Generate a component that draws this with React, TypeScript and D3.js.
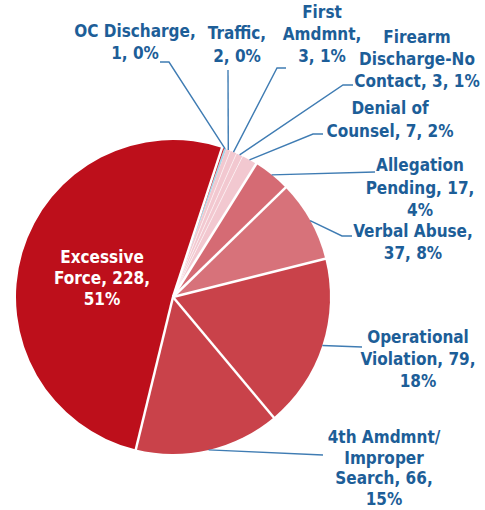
import React from "react";
import * as d3 from "d3";

const categories = [
  "OC Discharge",
  "Traffic",
  "First Amdmnt",
  "Firearm Discharge-No Contact",
  "Denial of Counsel",
  "Allegation Pending",
  "Verbal Abuse",
  "Operational Violation",
  "4th Amdmnt/ Improper Search",
  "Excessive Force",
];
const counts = [1, 2, 3, 3, 7, 17, 37, 79, 66, 228];
const percents = ["0%", "0%", "1%", "1%", "2%", "4%", "8%", "18%", "15%", "51%"];
const labelLines = [
  ["OC Discharge,", "1, 0%"],
  ["Traffic,", "2, 0%"],
  ["First", "Amdmnt,", "3, 1%"],
  ["Firearm", "Discharge-No", "Contact, 3, 1%"],
  ["Denial of", "Counsel, 7, 2%"],
  ["Allegation", "Pending, 17,", "4%"],
  ["Verbal Abuse,", "37, 8%"],
  ["Operational", "Violation, 79,", "18%"],
  ["4th Amdmnt/", "Improper", "Search, 66,", "15%"],
  ["Excessive", "Force, 228,", "51%"],
];
const colors = [
  "#a8d8ea",
  "#f2c8d0",
  "#f2c8d0",
  "#f2c8d0",
  "#f2c8d0",
  "#d56b74",
  "#d7727a",
  "#c9424a",
  "#c9424a",
  "#bd0f1b",
];

// separator widths at the start boundary of each slice
const sepWidths = [2.5, 0, 0.8, 0.8, 0.8, 2.5, 2.5, 2.5, 2.5, 2.5];

const layout = [
  { x: 135, y: 31, lh: 22, leader: [[169, 62], [160, 62]] },
  { x: 237, y: 33, lh: 23, leader: [[228, 70]] },
  { x: 322, y: 12, lh: 22, leader: [[277, 68], [286, 68]] },
  { x: 417, y: 37, lh: 22, leader: [[343, 85], [353, 85]] },
  { x: 390, y: 108, lh: 23, leader: [[313, 134], [323, 134]] },
  { x: 420, y: 165, lh: 22.5, leader: [[375, 172]] },
  { x: 413, y: 231, lh: 22, leader: [[342, 236], [352, 236]] },
  { x: 418, y: 337, lh: 22, leader: [[362, 347]] },
  { x: 384, y: 437, lh: 20.5, leader: [[323, 455]] },
  { x: 102, y: 257, lh: 21, leader: [] },
];

const W = 485;
const H = 510;
const cx = 173;
const cy = 297;
const R = 157;
const START = (19 * Math.PI) / 180;

export default function App() {
  const data = categories.map((c, i) => ({ c, v: counts[i], i }));
  const pie = d3
    .pie<any>()
    .value((d) => d.v)
    .sort(null)
    .startAngle(START)
    .endAngle(START + 2 * Math.PI);
  const arcs = pie(data);
  const arc = d3.arc<any>().innerRadius(0).outerRadius(R);
  const fontFamily =
    "'Liberation Sans Narrow', 'DejaVu Sans Condensed', 'Roboto', sans-serif";

  return (
    <svg
      width={W}
      height={H}
      style={{ position: "absolute", left: 0, top: 0 }}
      viewBox={`0 0 ${W} ${H}`}
    >
      <rect width={W} height={H} fill="#ffffff" />
      <g transform={`translate(${cx},${cy})`}>
        {arcs.map((a, i) => (
          <path key={i} d={arc(a) || ""} fill={colors[i]} />
        ))}
        {arcs.map((a, i) => {
          if (!sepWidths[i]) return null;
          // the first boundary's white gap sits on the larger slice's side
          const ang = i === 0 ? a.startAngle - 2.2 / R : a.startAngle;
          return (
            <line
              key={"s" + i}
              x1={0}
              y1={0}
              x2={(R + 1) * Math.sin(ang)}
              y2={-(R + 1) * Math.cos(ang)}
              stroke="#ffffff"
              strokeOpacity={sepWidths[i] < 1 ? 0.7 : 1}
              strokeWidth={sepWidths[i]}
            />
          );
        })}
      </g>
      {arcs.map((a, i) => {
        const L = layout[i];
        if (!L.leader.length) return null;
        const mid = (a.startAngle + a.endAngle) / 2;
        const sx = cx + R * Math.sin(mid);
        const sy = cy - R * Math.cos(mid);
        const pts = [[sx, sy], ...L.leader];
        return (
          <polyline
            key={"l" + i}
            points={pts.map((p) => p.join(",")).join(" ")}
            fill="none"
            stroke="#3f7cb3"
            strokeWidth={1.4}
          />
        );
      })}
      {labelLines.map((lines, i) => {
        const L = layout[i];
        return (
          <text
            key={"t" + i}
            textAnchor="middle"
            fontFamily={fontFamily}
            fontWeight="bold"
            fontSize={17}
            fill={i === 9 ? "#ffffff" : "#1d5e98"}
          >
            {lines.map((ln, j) => (
              <tspan
                key={j}
                x={L.x}
                y={L.y + j * L.lh}
                dominantBaseline="central"
              >
                {ln}
              </tspan>
            ))}
          </text>
        );
      })}
    </svg>
  );
}
